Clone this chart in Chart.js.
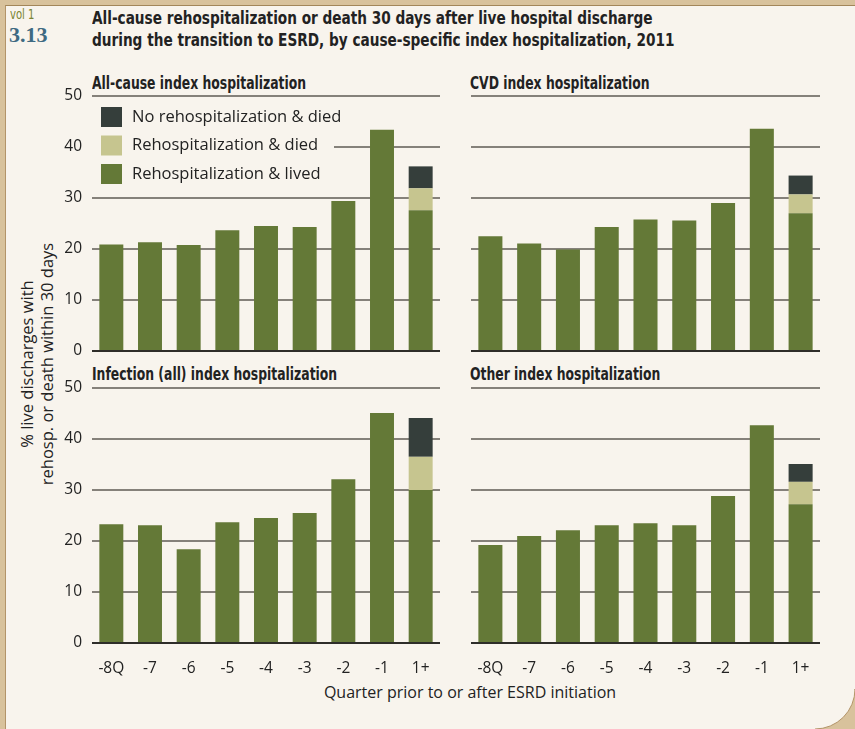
<!DOCTYPE html>
<html>
<head>
<meta charset="utf-8">
<title>Rehospitalization or death 30 days after discharge</title>
<script src="https://cdn.jsdelivr.net/npm/chart.js"></script>
<style>
  body { margin:0; width:855px; height:729px; overflow:hidden; background:#d8c29c; position:relative; font-family:"Open Sans", "Noto Sans", sans-serif; }
  #paper { position:absolute; left:5px; top:5px; width:880px; height:760px; background:#f8f4ed;
           border-left:1px solid #b39469; border-top:1px solid #a2865a; }
  #corner { position:absolute; left:0; top:0; width:855px; height:729px; pointer-events:none; }
  .txt { position:absolute; white-space:nowrap; color:#222; }
  .cond { font-family:"Liberation Sans Narrow", "DejaVu Sans Condensed", sans-serif; font-weight:bold; transform-origin:0 0; }
  canvas { position:absolute; }
</style>
</head>
<body>
<div id="paper"></div>
<div class="txt" style="left:10px; top:6px; font-family:'DejaVu Sans Condensed',sans-serif; font-size:14px; color:#7a8433; transform:scaleX(0.8); transform-origin:0 0;">vol 1</div>
<div class="txt" style="left:9px; top:22px; font-family:'Liberation Serif','DejaVu Serif',serif; font-weight:bold; font-size:22px; color:#3e6a82;">3.13</div>
<div class="txt cond" style="left:92px; top:7px; font-size:18.5px; line-height:22px; transform:scaleX(0.82);">All-cause rehospitalization or death 30 days after live hospital discharge<br>during the transition to ESRD, by cause-specific index hospitalization, 2011</div>

<div class="txt cond" style="left:92px; top:73px; font-size:17px; transform:scaleX(0.81);">All-cause index hospitalization</div>
<div class="txt cond" style="left:470px; top:73px; font-size:17px; transform:scaleX(0.81);">CVD index hospitalization</div>
<div class="txt cond" style="left:92px; top:364px; font-size:17px; transform:scaleX(0.81);">Infection (all) index hospitalization</div>
<div class="txt cond" style="left:470px; top:364px; font-size:17px; transform:scaleX(0.81);">Other index hospitalization</div>

<div class="txt" style="left:37px; top:364px; transform:translate(-50%,-50%) rotate(-90deg); font-size:16.5px; line-height:20px; text-align:center; color:#222;">% live discharges with<br>rehosp. or death within 30 days</div>
<div class="txt" style="left:470px; top:692px; transform:translate(-50%,-50%); font-size:16px; color:#222;">Quarter prior to or after ESRD initiation</div>

<canvas id="c1" width="410" height="275" style="left:40px; top:86px;"></canvas>
<canvas id="c2" width="360" height="275" style="left:461px; top:86px;"></canvas>
<canvas id="c3" width="410" height="305" style="left:40px; top:378px;"></canvas>
<canvas id="c4" width="360" height="305" style="left:461px; top:378px;"></canvas>
<canvas id="corner" width="855" height="729"></canvas>
<script>
  const quarters = ['-8Q', '-7', '-6', '-5', '-4', '-3', '-2', '-1', '1+'];
  const seriesNames = ['Rehospitalization & lived', 'Rehospitalization & died', 'No rehospitalization & died'];
  const seriesColors = ['#647937', '#c6c58f', '#353e3b'];

  // stacked values per panel: lived, rehosp & died, no rehosp & died
  const allLived   = [20.9, 21.3, 20.8, 23.7, 24.5, 24.3, 29.4, 43.4, 27.6];
  const allReDied  = [0, 0, 0, 0, 0, 0, 0, 0, 4.3];
  const allNoDied  = [0, 0, 0, 0, 0, 0, 0, 0, 4.3];

  const cvdLived   = [22.5, 21.1, 19.9, 24.3, 25.8, 25.6, 29.0, 43.6, 27.0];
  const cvdReDied  = [0, 0, 0, 0, 0, 0, 0, 0, 3.7];
  const cvdNoDied  = [0, 0, 0, 0, 0, 0, 0, 0, 3.7];

  const infLived   = [23.3, 23.1, 18.4, 23.7, 24.5, 25.5, 32.1, 45.1, 30.0];
  const infReDied  = [0, 0, 0, 0, 0, 0, 0, 0, 6.5];
  const infNoDied  = [0, 0, 0, 0, 0, 0, 0, 0, 7.6];

  const othLived   = [19.2, 21.0, 22.1, 23.1, 23.5, 23.1, 28.8, 42.7, 27.2];
  const othReDied  = [0, 0, 0, 0, 0, 0, 0, 0, 4.4];
  const othNoDied  = [0, 0, 0, 0, 0, 0, 0, 0, 3.5];

  const yTicks = [0, 10, 20, 30, 40, 50];
  const bg = '#f8f4ed';
  const tickFont = { family: "'Open Sans', 'Noto Sans', sans-serif", size: 15.5 };

  const legendPlugin = {
    id: 'boxLegend',
    beforeDatasetsDraw(chart) {
      const c = chart.ctx, a = chart.chartArea;
      c.save();
      c.fillStyle = bg;
      c.fillRect(a.left, 101 - 86, 242, 88);
      const ds = chart.data.datasets.slice().reverse();
      c.font = "16.5px 'Open Sans', 'Noto Sans', sans-serif";
      c.textBaseline = 'middle';
      ds.forEach((d, i) => {
        const top = 107 - 86 + i * 28.5;
        c.fillStyle = d.backgroundColor;
        c.fillRect(a.left + 9, top, 21, 20);
        c.fillStyle = '#222';
        c.fillText(d.label, a.left + 40, top + 10);
      });
      c.restore();
    }
  };

  function makeChart(id, lived, reDied, noDied, opts) {
    const datasets = [lived, reDied, noDied].map((vals, i) => ({
      label: seriesNames[i],
      data: vals,
      backgroundColor: seriesColors[i],
      borderWidth: 0,
      categoryPercentage: 1,
      barPercentage: 0.62
    }));
    return new Chart(document.getElementById(id), {
      type: 'bar',
      data: { labels: quarters, datasets: datasets },
      plugins: opts.legend ? [legendPlugin] : [],
      options: {
        responsive: false,
        animation: false,
        layout: { padding: opts.pad },
        plugins: { legend: { display: false }, tooltip: { enabled: false } },
        scales: {
          x: {
            stacked: true,
            display: opts.xLabels,
            grid: { display: false },
            border: { display: false },
            ticks: { color: '#222', font: tickFont, padding: 8, maxRotation: 0, autoSkip: false },
            afterFit(s) { s.height = opts.xLabels ? 40 : 0; s.paddingLeft = 0; s.paddingRight = 0; }
          },
          y: {
            stacked: true,
            min: 0,
            max: 50,
            afterBuildTicks(s) { s.ticks = yTicks.map(v => ({ value: v })); },
            afterFit(s) { s.width = opts.yLabels ? 52 : 0; s.paddingTop = 0; s.paddingBottom = 0; },
            border: { display: false },
            grid: {
              drawTicks: false,
              lineWidth: 2,
              color: ctx => ctx.tick && ctx.tick.value === 0 ? '#2e2d29' : '#85817a'
            },
            ticks: { display: opts.yLabels, color: '#222', font: tickFont, padding: 10 }
          }
        }
      }
    });
  }

  makeChart('c1', allLived, allReDied, allNoDied, { yLabels: true, xLabels: false, legend: true,
    pad: { top: 10, right: 10, bottom: 10, left: 0 } });
  makeChart('c2', cvdLived, cvdReDied, cvdNoDied, { yLabels: false, xLabels: false, legend: false,
    pad: { top: 10, right: 1, bottom: 10, left: 10 } });
  makeChart('c3', infLived, infReDied, infNoDied, { yLabels: true, xLabels: true, legend: false,
    pad: { top: 10, right: 10, bottom: 0, left: 0 } });
  makeChart('c4', othLived, othReDied, othNoDied, { yLabels: false, xLabels: true, legend: false,
    pad: { top: 10, right: 1, bottom: 0, left: 10 } });

  // rounded page corner at bottom right
  const k = document.getElementById('corner').getContext('2d');
  k.fillStyle = '#d8c29c';
  k.beginPath();
  k.moveTo(855, 690);
  k.arcTo(855, 729, 816, 729, 40);
  k.lineTo(855, 729);
  k.closePath();
  k.fill();
  k.strokeStyle = '#b39469';
  k.beginPath();
  k.moveTo(855, 690);
  k.arcTo(855, 729, 816, 729, 40);
  k.stroke();
</script>
</body>
</html>
